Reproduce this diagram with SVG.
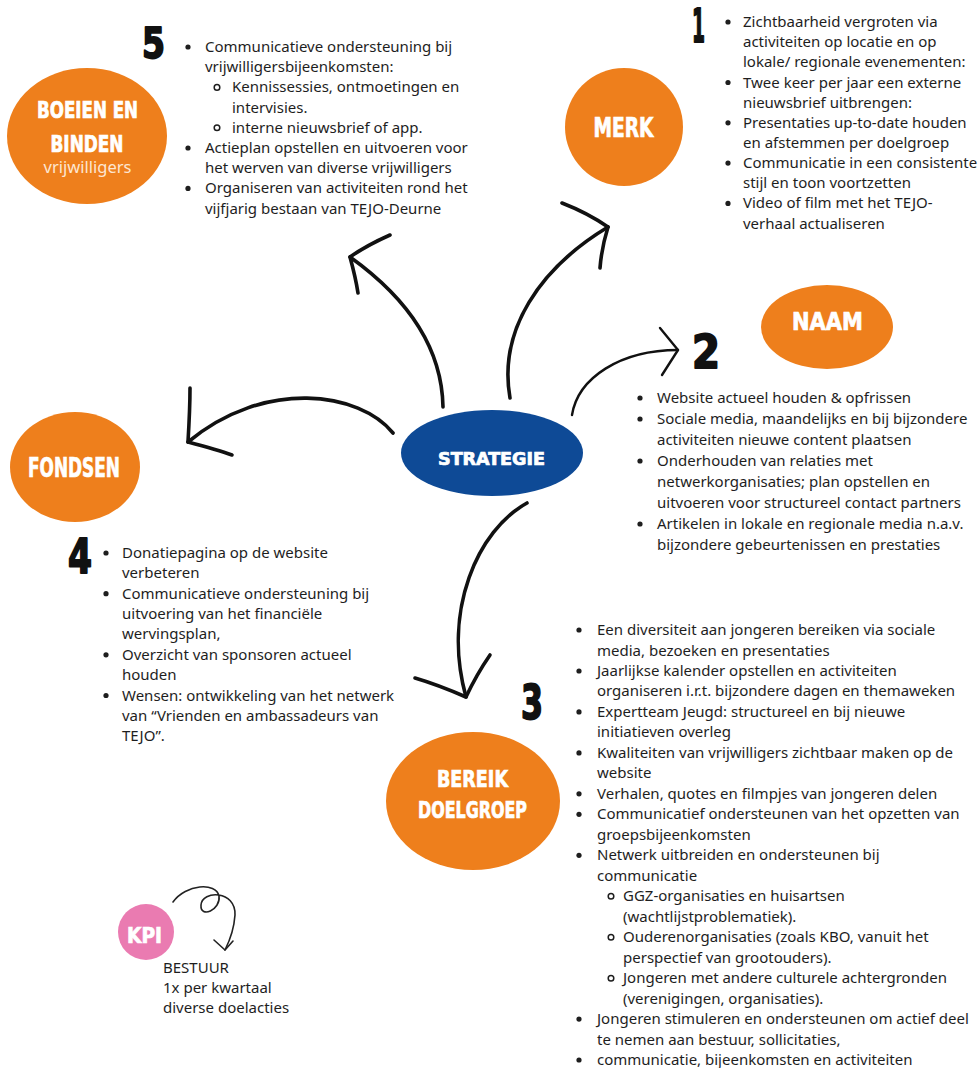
<svg xmlns="http://www.w3.org/2000/svg" width="979" height="1068" viewBox="0 0 979 1068">
<defs>
<style>
.bg{fill:#ffffff}
.org{fill:#EE7F1C}
.blue{fill:#0E4A96}
.pink{fill:#EA7BB1}
.hd{font-family:"Liberation Sans Narrow","DejaVu Sans Condensed","Liberation Sans",sans-serif;font-weight:bold;fill:#ffffff;stroke:#ffffff;stroke-width:0.7;text-anchor:middle}
.num{font-family:"Liberation Sans Narrow","DejaVu Sans Condensed","Liberation Sans",sans-serif;font-weight:900;fill:#111111;stroke:#111111;stroke-width:1.8;stroke-linejoin:round;text-anchor:middle}
.tx{font-family:"Noto Sans","Open Sans","DejaVu Sans",sans-serif;font-size:15px;fill:#1e1e1e}
.dot{fill:#1e1e1e}
.ring{fill:none;stroke:#1e1e1e;stroke-width:1.5}
.con{fill:none;stroke:#111111;stroke-width:3.6;stroke-linecap:round;stroke-linejoin:round}
.thin{fill:none;stroke:#222222;stroke-width:1.6;stroke-linecap:round;stroke-linejoin:round}
</style>
</defs>
<rect class="bg" x="0" y="0" width="979" height="1068"/>

<g id="connectors">
  <path class="con" d="M443,407 C442,350 410,300 350,257"/>
  <path class="con" d="M390,235 C372,243 360,250 350,257 C353,268 356,280 358,293"/>
  <path class="con" d="M510,398 C498,330 540,268 608,227"/>
  <path class="con" d="M562,203 C580,210 595,218 608,227 C604,240 601,255 600,268"/>
  <path class="con" d="M393,433 C360,392 265,378 188,442"/>
  <path class="con" d="M190,388 C190,405 189,425 188,442 C203,446 218,450 232,455"/>
  <path class="thin" style="stroke-width:2.4;stroke:#111" d="M572,415 C578,378 620,350 678,350"/>
  <path class="thin" style="stroke-width:2.4;stroke:#111" d="M660,328 L678,350 L662,375"/>
  <path class="con" d="M527,503 C478,530 442,610 466,697"/>
  <path class="con" d="M415,678 C432,683 450,690 466,697 C473,682 481,668 490,655"/>
  <path class="thin" d="M173,902 C186,884 216,882 219,896 C221,910 200,919 201,905 C202,890 236,890 235,915 C234,930 229,942 225,950"/>
  <path class="thin" d="M214,940 L225,950 L233,941"/>
</g>

<g id="node-boeien">
  <ellipse class="org" cx="87" cy="136" rx="80" ry="68"/>
  <text class="hd" x="87.5" y="118" font-size="22.5" textLength="101" lengthAdjust="spacingAndGlyphs">BOEIEN EN</text>
  <text class="hd" x="87" y="152" font-size="22.5" textLength="73" lengthAdjust="spacingAndGlyphs">BINDEN</text>
  <text x="87.5" y="173" text-anchor="middle" font-family="Noto Sans, Open Sans, sans-serif" font-size="16.5" fill="#fde6d2">vrijwilligers</text>
  <text class="num" x="153.5" y="58" font-size="42" textLength="23" lengthAdjust="spacingAndGlyphs">5</text>
</g>

<g id="node-merk">
  <circle class="org" cx="624" cy="127" r="59"/>
  <text class="hd" x="623.5" y="137" font-size="26" textLength="60" lengthAdjust="spacingAndGlyphs">MERK</text>
  <text class="num" x="698.5" y="42" font-size="47" textLength="13" lengthAdjust="spacingAndGlyphs">1</text>
</g>

<g id="node-naam">
  <ellipse class="org" cx="827" cy="327" rx="66" ry="42"/>
  <text class="hd" x="827.5" y="330" font-size="25" textLength="71" lengthAdjust="spacingAndGlyphs">NAAM</text>
  <text class="num" x="706" y="368" font-size="46" textLength="28" lengthAdjust="spacingAndGlyphs">2</text>
</g>

<g id="node-strategie">
  <ellipse class="blue" cx="492" cy="453" rx="91" ry="43"/>
  <text class="hd" x="491.5" y="465" font-size="18" textLength="107" lengthAdjust="spacingAndGlyphs">STRATEGIE</text>
</g>

<g id="node-fondsen">
  <ellipse class="org" cx="75" cy="467" rx="65" ry="55"/>
  <text class="hd" x="74" y="477" font-size="27" textLength="92" lengthAdjust="spacingAndGlyphs">FONDSEN</text>
  <text class="num" x="80" y="573" font-size="48" textLength="24" lengthAdjust="spacingAndGlyphs">4</text>
</g>

<g id="node-bereik">
  <ellipse class="org" cx="473" cy="801" rx="87" ry="69"/>
  <text class="hd" x="472.5" y="787" font-size="23.5" textLength="71" lengthAdjust="spacingAndGlyphs">BEREIK</text>
  <text class="hd" x="472.5" y="818" font-size="22.5" textLength="109" lengthAdjust="spacingAndGlyphs">DOELGROEP</text>
  <text class="num" x="532" y="719" font-size="48" textLength="22" lengthAdjust="spacingAndGlyphs">3</text>
</g>

<g id="node-kpi">
  <circle class="pink" cx="146" cy="932" r="28"/>
  <text class="hd" x="144.5" y="943" font-size="22" textLength="35" lengthAdjust="spacingAndGlyphs">KPI</text>
  <text class="tx">
    <tspan x="163" y="973">BESTUUR</tspan>
    <tspan x="163" y="993">1x per kwartaal</tspan>
    <tspan x="163" y="1013">diverse doelacties</tspan>
  </text>
</g>

<g id="list-1">
  <circle class="dot" cx="728" cy="22" r="2.6"/>
  <circle class="dot" cx="728" cy="82.5" r="2.6"/>
  <circle class="dot" cx="728" cy="122.8" r="2.6"/>
  <circle class="dot" cx="728" cy="163.1" r="2.6"/>
  <circle class="dot" cx="728" cy="203.4" r="2.6"/>
  <text class="tx">
    <tspan x="743" y="27">Zichtbaarheid vergroten via</tspan>
    <tspan x="743" y="47.2">activiteiten op locatie en op</tspan>
    <tspan x="743" y="67.3">lokale/ regionale evenementen:</tspan>
    <tspan x="743" y="87.5">Twee keer per jaar een externe</tspan>
    <tspan x="743" y="107.6">nieuwsbrief uitbrengen:</tspan>
    <tspan x="743" y="127.8">Presentaties up-to-date houden</tspan>
    <tspan x="743" y="147.9">en afstemmen per doelgroep</tspan>
    <tspan x="743" y="168.1">Communicatie in een consistente</tspan>
    <tspan x="743" y="188.2">stijl en toon voortzetten</tspan>
    <tspan x="743" y="208.4">Video of film met het TEJO-</tspan>
    <tspan x="743" y="228.5">verhaal actualiseren</tspan>
  </text>
</g>

<g id="list-2">
  <circle class="dot" cx="640" cy="398" r="2.6"/>
  <circle class="dot" cx="640" cy="419" r="2.6"/>
  <circle class="dot" cx="640" cy="461" r="2.6"/>
  <circle class="dot" cx="640" cy="524" r="2.6"/>
  <text class="tx">
    <tspan x="657" y="403">Website actueel houden &amp; opfrissen</tspan>
    <tspan x="657" y="424">Sociale media, maandelijks en bij bijzondere</tspan>
    <tspan x="657" y="445">activiteiten nieuwe content plaatsen</tspan>
    <tspan x="657" y="466">Onderhouden van relaties met</tspan>
    <tspan x="657" y="487">netwerkorganisaties; plan opstellen en</tspan>
    <tspan x="657" y="508">uitvoeren voor structureel contact partners</tspan>
    <tspan x="657" y="529">Artikelen in lokale en regionale media n.a.v.</tspan>
    <tspan x="657" y="550">bijzondere gebeurtenissen en prestaties</tspan>
  </text>
</g>

<g id="list-4">
  <circle class="dot" cx="106" cy="553" r="2.6"/>
  <circle class="dot" cx="106" cy="593.7" r="2.6"/>
  <circle class="dot" cx="106" cy="654.8" r="2.6"/>
  <circle class="dot" cx="106" cy="695.5" r="2.6"/>
  <text class="tx">
    <tspan x="122" y="558">Donatiepagina op de website</tspan>
    <tspan x="122" y="578.4">verbeteren</tspan>
    <tspan x="122" y="598.7">Communicatieve ondersteuning bij</tspan>
    <tspan x="122" y="619.1">uitvoering van het financiële</tspan>
    <tspan x="122" y="639.4">wervingsplan,</tspan>
    <tspan x="122" y="659.8">Overzicht van sponsoren actueel</tspan>
    <tspan x="122" y="680.1">houden</tspan>
    <tspan x="122" y="700.5">Wensen: ontwikkeling van het netwerk</tspan>
    <tspan x="122" y="720.8">van “Vrienden en ambassadeurs van</tspan>
    <tspan x="122" y="741.2">TEJO”.</tspan>
  </text>
</g>

<g id="list-5">
  <circle class="dot" cx="188" cy="47" r="2.6"/>
  <circle class="ring" cx="217" cy="87.4" r="2.8"/>
  <circle class="ring" cx="217" cy="127.8" r="2.8"/>
  <circle class="dot" cx="188" cy="148" r="2.6"/>
  <circle class="dot" cx="188" cy="188.4" r="2.6"/>
  <text class="tx">
    <tspan x="205" y="52">Communicatieve ondersteuning bij</tspan>
    <tspan x="205" y="72.2">vrijwilligersbijeenkomsten:</tspan>
    <tspan x="232" y="92.4">Kennissessies, ontmoetingen en</tspan>
    <tspan x="232" y="112.6">intervisies.</tspan>
    <tspan x="232" y="132.8">interne nieuwsbrief of app.</tspan>
    <tspan x="205" y="153">Actieplan opstellen en uitvoeren voor</tspan>
    <tspan x="205" y="173.2">het werven van diverse vrijwilligers</tspan>
    <tspan x="205" y="193.4">Organiseren van activiteiten rond het</tspan>
    <tspan x="205" y="213.6">vijfjarig bestaan van TEJO-Deurne</tspan>
  </text>
</g>

<g id="list-3">
  <circle class="dot" cx="579" cy="630" r="2.6"/>
  <circle class="dot" cx="579" cy="671" r="2.6"/>
  <circle class="dot" cx="579" cy="711.9" r="2.6"/>
  <circle class="dot" cx="579" cy="752.9" r="2.6"/>
  <circle class="dot" cx="579" cy="793.8" r="2.6"/>
  <circle class="dot" cx="579" cy="814.3" r="2.6"/>
  <circle class="dot" cx="579" cy="855.3" r="2.6"/>
  <circle class="ring" cx="611" cy="896.2" r="2.8"/>
  <circle class="ring" cx="611" cy="937.2" r="2.8"/>
  <circle class="ring" cx="611" cy="978.2" r="2.8"/>
  <circle class="dot" cx="579" cy="1019.1" r="2.6"/>
  <circle class="dot" cx="579" cy="1060" r="2.6"/>
  <text class="tx">
    <tspan x="597" y="635">Een diversiteit aan jongeren bereiken via sociale</tspan>
    <tspan x="597" y="655.5">media, bezoeken en presentaties</tspan>
    <tspan x="597" y="676">Jaarlijkse kalender opstellen en activiteiten</tspan>
    <tspan x="597" y="696.4">organiseren i.r.t. bijzondere dagen en themaweken</tspan>
    <tspan x="597" y="716.9">Expertteam Jeugd: structureel en bij nieuwe</tspan>
    <tspan x="597" y="737.4">initiatieven overleg</tspan>
    <tspan x="597" y="757.9">Kwaliteiten van vrijwilligers zichtbaar maken op de</tspan>
    <tspan x="597" y="778.4">website</tspan>
    <tspan x="597" y="798.8">Verhalen, quotes en filmpjes van jongeren delen</tspan>
    <tspan x="597" y="819.3">Communicatief ondersteunen van het opzetten van</tspan>
    <tspan x="597" y="839.8">groepsbijeenkomsten</tspan>
    <tspan x="597" y="860.3">Netwerk uitbreiden en ondersteunen bij</tspan>
    <tspan x="597" y="880.8">communicatie</tspan>
    <tspan x="623" y="901.2">GGZ-organisaties en huisartsen</tspan>
    <tspan x="623" y="921.7">(wachtlijstproblematiek).</tspan>
    <tspan x="623" y="942.2">Ouderenorganisaties (zoals KBO, vanuit het</tspan>
    <tspan x="623" y="962.7">perspectief van grootouders).</tspan>
    <tspan x="623" y="983.2">Jongeren met andere culturele achtergronden</tspan>
    <tspan x="623" y="1003.6">(verenigingen, organisaties).</tspan>
    <tspan x="597" y="1024.1">Jongeren stimuleren en ondersteunen om actief deel</tspan>
    <tspan x="597" y="1044.6">te nemen aan bestuur, sollicitaties,</tspan>
    <tspan x="597" y="1065">communicatie, bijeenkomsten en activiteiten</tspan>
  </text>
</g>
</svg>
